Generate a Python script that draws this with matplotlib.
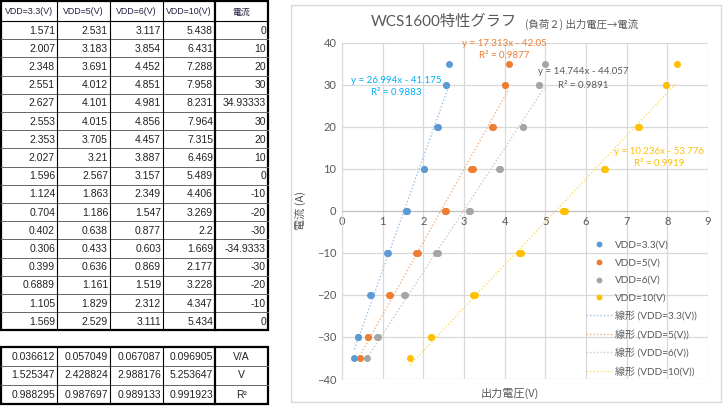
import matplotlib
matplotlib.use("Agg")
import matplotlib.pyplot as plt
import numpy as np
from matplotlib.patches import Rectangle

# table / chart data
headers = ["VDD=3.3(V)", "VDD=5(V)", "VDD=6(V)", "VDD=10(V)", "電流"]
v33 = [1.571, 2.007, 2.348, 2.551, 2.627, 2.553, 2.353, 2.027, 1.596, 1.124, 0.704, 0.402, 0.306, 0.399, 0.6889, 1.105, 1.569]
v5 = [2.531, 3.183, 3.691, 4.012, 4.101, 4.015, 3.705, 3.21, 2.567, 1.863, 1.186, 0.638, 0.433, 0.636, 1.161, 1.829, 2.529]
v6 = [3.117, 3.854, 4.452, 4.851, 4.981, 4.856, 4.457, 3.887, 3.157, 2.349, 1.547, 0.877, 0.603, 0.869, 1.519, 2.312, 3.111]
v10 = [5.438, 6.431, 7.288, 7.958, 8.231, 7.964, 7.315, 6.469, 5.489, 4.406, 3.269, 2.2, 1.669, 2.177, 3.228, 4.347, 5.434]
current = [0, 10, 20, 30, 34.93333, 30, 20, 10, 0, -10, -20, -30, -34.9333, -30, -20, -10, 0]

slope_va = [0.036612, 0.057049, 0.067087, 0.096905]
intercept_v = [1.525347, 2.428824, 2.988176, 5.253647]
r2_vals = [0.988295, 0.987697, 0.989133, 0.991923]
stat_labels = ["V/A", "V", "R²"]

series_names = ["VDD=3.3(V)", "VDD=5(V)", "VDD=6(V)", "VDD=10(V)"]
eq_texts = ["y = 26.994x - 41.175", "y = 17.313x - 42.05", "y = 14.744x - 44.057", "y = 10.236x - 53.776"]
r2_texts = ["R² = 0.9883", "R² = 0.9877", "R² = 0.9891", "R² = 0.9919"]

colors = ["#5B9BD5", "#ED7D31", "#A5A5A5", "#FFC000"]
trend_colors = ["#9DC3E6", "#F4B183", "#C9C9C9", "#FFD966"]
eq_colors = ["#00B0F0", "#ED7D31", "#595959", "#FFC000"]

W, H = 728, 407
fig = plt.figure(figsize=(W / 100, H / 100), dpi=100)

def fx(x):
    return x / W

def fy(y):
    return 1 - y / H

def fmt(v):
    return str(int(v)) if float(v).is_integer() else str(v)

# ---- tables, drawn in pixel coordinates ----
tab = fig.add_axes([0, 0, 1, 1])
tab.set_xlim(0, W)
tab.set_ylim(H, 0)
tab.axis("off")

cols = [1, 57, 110, 163, 215, 268]
tfont = ["Liberation Sans", "Noto Sans CJK JP"]

# main table
top, head_h, row_h = 1, 20, 18.2
n_rows = len(current)
bottom = top + head_h + n_rows * row_h
for i in range(1, n_rows):
    y = top + head_h + i * row_h
    tab.plot([cols[0], cols[-1]], [y, y], color="#666666", lw=0.7)
tab.plot([cols[0], cols[-1]], [top + head_h] * 2, color="black", lw=0.8)
for j, x in enumerate(cols[1:-1]):
    tab.plot([x, x], [top, bottom], color="black", lw=1.6 if x == 215 else 0.8)
tab.add_patch(Rectangle((cols[0], top), cols[-1] - cols[0], bottom - top,
                        fill=False, ec="black", lw=1.6))
for j, h in enumerate(headers):
    tab.text((cols[j] + cols[j + 1]) / 2, top + head_h / 2 + 1, h, ha="center", va="center",
             fontsize=6.4, family=tfont, color="#1F1F3F")
table_cols = [v33, v5, v6, v10, current]
for j, vals in enumerate(table_cols):
    for i, v in enumerate(vals):
        y = top + head_h + (i + 0.5) * row_h
        tab.text(cols[j + 1] - 2, y + 0.5, fmt(v), ha="right", va="center",
                 fontsize=7.5, family=tfont, color="#222222")

# stats table
top2, row2 = 346.5, 19
stats = [slope_va, intercept_v, r2_vals]
bottom2 = top2 + 3 * row2
for i in range(1, 3):
    y = top2 + i * row2
    tab.plot([cols[0], cols[-1]], [y, y], color="#666666", lw=0.7)
for x in cols[1:-1]:
    tab.plot([x, x], [top2, bottom2], color="black", lw=1.6 if x == 215 else 0.8)
tab.add_patch(Rectangle((cols[0], top2), cols[-1] - cols[0], bottom2 - top2,
                        fill=False, ec="black", lw=1.6))
for i, row in enumerate(stats):
    y = top2 + (i + 0.5) * row2
    for j, v in enumerate(row):
        tab.text(cols[j + 1] - 2, y + 0.5, f"{v:.6f}", ha="right", va="center",
                 fontsize=7.5, family=tfont, color="#222222")
    tab.text((cols[4] + cols[5]) / 2, y + 0.5, stat_labels[i], ha="center", va="center",
             fontsize=7.5, family=tfont, color="#222222")

# chart frame
tab.add_patch(Rectangle((291, 5), 430, 397, fill=False, ec="#D9D9D9", lw=1))

# ---- scatter chart ----
cfont = ["Lato", "Noto Sans CJK JP"]
ax = fig.add_axes([fx(342), fy(379), fx(708) - fx(342), fy(42.7) - fy(379)])
ax.set_xlim(0, 9)
ax.set_ylim(-40, 40)
ax.set_xticks(range(0, 10))
ax.set_yticks(range(-40, 41, 10))
ax.grid(True, color="#D9D9D9", lw=0.9)
ax.set_axisbelow(True)
for s in ["top", "right"]:
    ax.spines[s].set_visible(False)
ax.spines["bottom"].set_position(("data", 0))
ax.spines["bottom"].set_color("#BFBFBF")
ax.spines["left"].set_color("#D9D9D9")
ax.tick_params(length=0, labelsize=8, labelcolor="#595959", pad=4)
for lab in ax.get_xticklabels() + ax.get_yticklabels():
    lab.set_family(cfont)

cur = np.array(current)
point_handles, line_handles = [], []
for k, xs in enumerate([v33, v5, v6, v10]):
    xs = np.array(xs)
    p, = ax.plot(xs, cur, "o", ms=4, color=colors[k], mec=colors[k], zorder=3)
    point_handles.append(p)
    a, b = np.polyfit(xs, cur, 1)
    xl = np.array([xs.min(), xs.max()])
    ln, = ax.plot(xl, a * xl + b, ls=(0, (1, 1.5)), lw=1, color=trend_colors[k], zorder=2)
    line_handles.append(ln)

# equation labels
eq_pos = [(396, 80.7, 92.3), (504, 43.3, 56), (583, 71, 85), (659, 151.7, 164)]
for k, (x, y1, y2) in enumerate(eq_pos):
    fig.text(fx(x), fy(y1), eq_texts[k], ha="center", va="center", fontsize=7,
             color=eq_colors[k], family=cfont)
    fig.text(fx(x), fy(y2), r2_texts[k], ha="center", va="center", fontsize=7,
             color=eq_colors[k], family=cfont)

labels = series_names + ["線形 (" + n + ")" for n in series_names]
fig.legend(point_handles + line_handles, labels, loc="upper left",
           bbox_to_anchor=(fx(586), fy(241)), bbox_transform=fig.transFigure,
           frameon=False, borderpad=0, borderaxespad=0, handlelength=2.6,
           handletextpad=0.3, labelspacing=0.85, labelcolor="#595959", markerscale=0.8,
           prop={"family": cfont, "size": 7.2})

# titles and axis labels
fig.text(fx(371), fy(22), "WCS1600特性グラフ", ha="left", va="center", fontsize=11,
         color="#595959", family=cfont)
fig.text(fx(525), fy(24), "(負荷２) 出力電圧→電流", ha="left", va="center", fontsize=7.5,
         color="#595959", family=["Noto Sans CJK JP", "DejaVu Sans"])
fig.text(fx(300), fy(210), "電流 (A)", ha="center", va="center", rotation=90, fontsize=8,
         color="#595959", family=["Noto Sans CJK JP", "DejaVu Sans"])
fig.text(fx(510), fy(393), "出力電圧(V)", ha="center", va="center", fontsize=8,
         color="#595959", family=["Noto Sans CJK JP", "DejaVu Sans"])

fig.savefig("out.png", dpi=100)
